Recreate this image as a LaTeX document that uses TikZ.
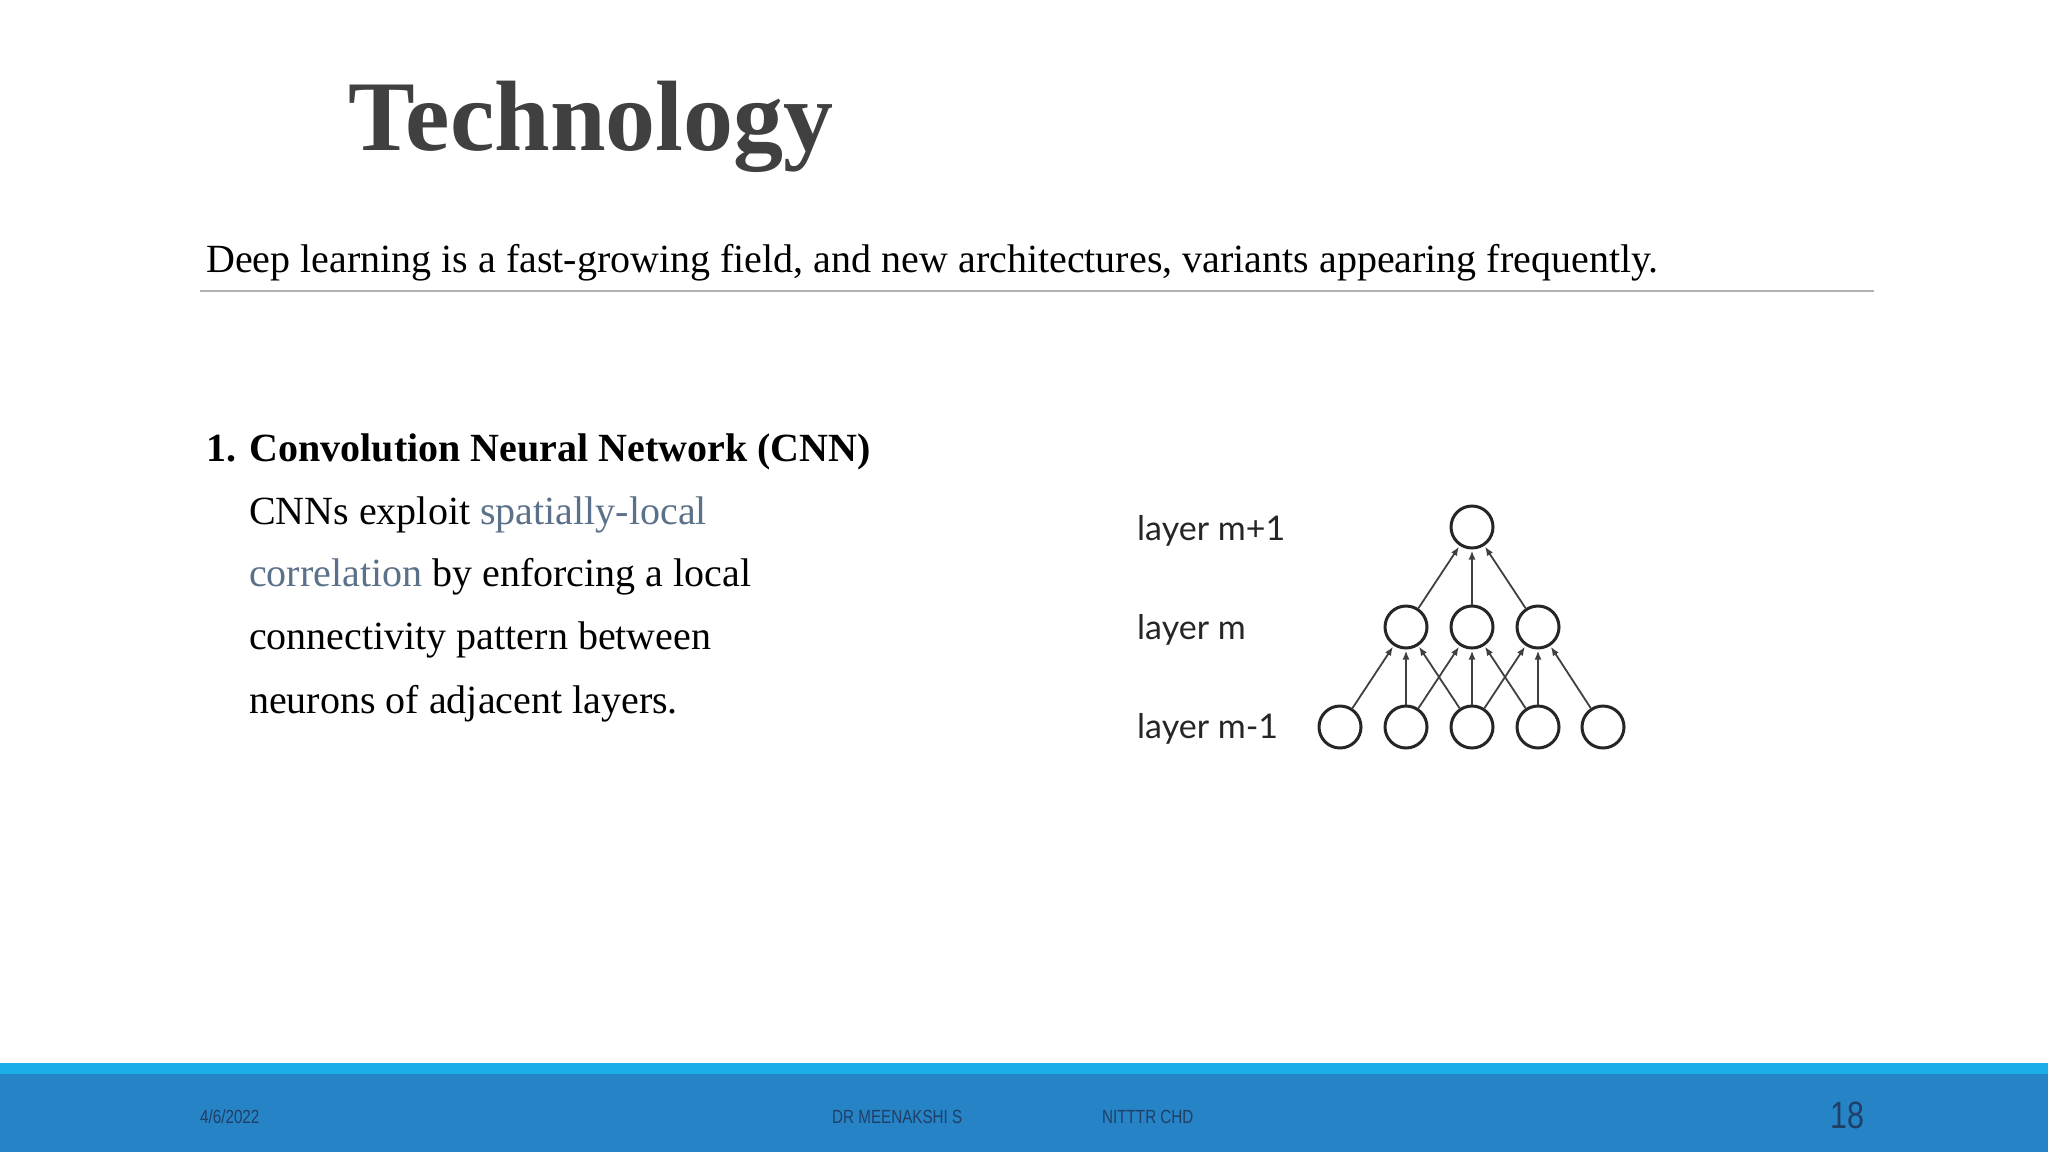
\documentclass[tikz,border=0pt]{standalone}
\usepackage{fontspec}
\usetikzlibrary{arrows.meta}
\setmainfont{Liberation Serif}
\newfontfamily\lbl{Lato}
\newfontfamily\foot{Liberation Sans}
\definecolor{titlegray}{HTML}{404040}
\definecolor{linkc}{HTML}{5B7089}
\definecolor{lightband}{HTML}{1AAFE6}
\definecolor{darkband}{HTML}{2683C6}
\definecolor{foottext}{HTML}{1F3F66}
\begin{document}
\begin{tikzpicture}[x=1pt,y=-1pt,
  neuron/.style={circle,draw=black!85,line width=3pt,minimum size=42pt,inner sep=0pt},
  conn/.style={-{Latex[length=9pt,width=7pt]},black!75,line width=1.8pt,shorten >=1pt},
  lay/.style={anchor=base west,font=\lbl\fontsize{34}{40}\selectfont,text=black!85,inner sep=0pt},
  body/.style={anchor=base west,inner sep=0pt,font=\fontsize{40}{48}\selectfont},
  ft/.style={anchor=base west,inner sep=0pt,text=foottext,font=\foot\fontsize{19}{22}\selectfont}]
\useasboundingbox (0,0) rectangle (2048,1152);
\fill[white] (0,0) rectangle (2048,1152);
\node[anchor=base west,inner sep=0pt,text=titlegray,font=\bfseries\fontsize{100}{110}\selectfont] (title) at (348,150) {Technology};
\node[anchor=base west,inner sep=0pt,font=\fontsize{40}{48}\selectfont] (sub) at (206,272) {Deep learning is a fast-growing field, and new architectures, variants appearing frequently.};
\coordinate (l1) at (200,291); \coordinate (l2) at (1874,291);
\draw[black!30,line width=1.5pt] (l1) -- (l2);
\node[body,font=\bfseries\fontsize{40}{48}\selectfont] (h) at (206,461) {1. Convolution Neural Network (CNN)};
\node[body] (b1) at (249,524) {CNNs exploit \textcolor{linkc}{spatially-local}};
\node[body] (b2) at (249,586) {\textcolor{linkc}{correlation} by enforcing a local};
\node[body] (b3) at (249,649) {connectivity pattern between};
\node[body] (b4) at (249,713) {neurons of adjacent layers.};
% diagram
\node[lay] (la) at (1137,540) {layer m+1};
\node[lay] (lb) at (1137,639) {layer m};
\node[lay] (lc) at (1137,738) {layer m-1};
\node[neuron] (t) at (1472,527) {};
\node[neuron] (m0) at (1406,627) {};
\node[neuron] (m1) at (1472,627) {};
\node[neuron] (m2) at (1538,627) {};
\node[neuron] (d0) at (1340,727) {};
\node[neuron] (d1) at (1406,727) {};
\node[neuron] (d2) at (1472,727) {};
\node[neuron] (d3) at (1538,727) {};
\node[neuron] (d4) at (1603,727) {};
\foreach \m in {0,1,2} \draw[conn] (m\m) -- (t);
\draw[conn] (d0) -- (m0); \draw[conn] (d1) -- (m0); \draw[conn] (d2) -- (m0);
\draw[conn] (d1) -- (m1); \draw[conn] (d2) -- (m1); \draw[conn] (d3) -- (m1);
\draw[conn] (d2) -- (m2); \draw[conn] (d3) -- (m2); \draw[conn] (d4) -- (m2);
% footer
\fill[lightband] (0,1063) rectangle (2048,1074);
\fill[darkband] (0,1074) rectangle (2048,1152);
\node[ft] (date) at (200,1123) {\addfontfeature{FakeStretch=0.8}4/6/2022};
\node[ft] (auth) at (832,1123) {\addfontfeature{FakeStretch=0.8}DR MEENAKSHI S};
\node[ft] (inst) at (1102,1123) {\addfontfeature{FakeStretch=0.8}NITTTR CHD};
\node[ft,font=\foot\fontsize{38}{44}\selectfont] (pg) at (1830,1128) {\addfontfeature{FakeStretch=0.8}18};
\end{tikzpicture}
\end{document}
